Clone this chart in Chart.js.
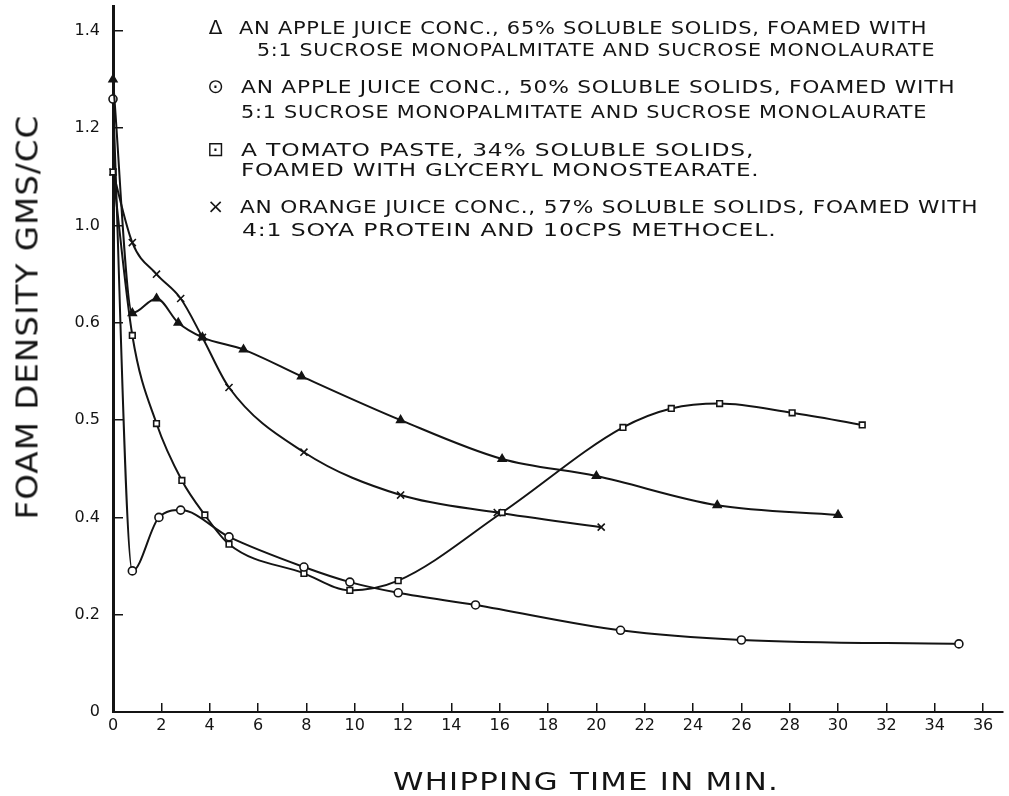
<!DOCTYPE html>
<html>
<head>
<meta charset="utf-8">
<script src="https://cdn.jsdelivr.net/npm/chart.js@4/dist/chart.umd.min.js"></script>
<style>
  html, body { margin: 0; padding: 0; background: #fff; }
  #wrap { position: relative; width: 1009px; height: 796px; overflow: hidden; }
  #foamChart { position: absolute; left: 0; top: 0; }
  .txt {
    position: absolute;
    font-family: 'DejaVu Sans', sans-serif;
    color: #141414;
    white-space: nowrap;
    line-height: 1;
    letter-spacing: 0.6px;
  }
  .leg { font-size: 17px; transform-origin: left center; }
  .mark { font-size: 20px; transform: translate(-50%, -50%); }
  #yTitle { font-size: 31px; letter-spacing: 1px; }
  #xTitle { font-size: 25px; letter-spacing: 1px; }
</style>
</head>
<body>
<div id="wrap">
  <canvas id="foamChart" width="1009" height="796"></canvas>

  <!-- legend block, typed as on the original figure -->
  <span class="txt mark" style="left:216px; top:27px;">&#916;</span>
  <span class="txt leg" data-w="688" style="left:239px; top:28px;">AN APPLE JUICE CONC., 65% SOLUBLE SOLIDS, FOAMED WITH</span>
  <span class="txt leg" data-w="678" style="left:257px; top:50px;">5:1 SUCROSE MONOPALMITATE AND SUCROSE MONOLAURATE</span>

  <span class="txt mark" style="left:216px; top:86px;">&#8857;</span>
  <span class="txt leg" data-w="714" style="left:241px; top:87px;">AN APPLE JUICE CONC., 50% SOLUBLE SOLIDS, FOAMED WITH</span>
  <span class="txt leg" data-w="686" style="left:241px; top:112px;">5:1 SUCROSE MONOPALMITATE AND SUCROSE MONOLAURATE</span>

  <span class="txt mark" style="left:216px; top:149px;">&#8865;</span>
  <span class="txt leg" data-w="513" style="left:241px; top:150px;">A TOMATO PASTE, 34% SOLUBLE SOLIDS,</span>
  <span class="txt leg" data-w="518" style="left:241px; top:170px;">FOAMED WITH GLYCERYL MONOSTEARATE.</span>

  <span class="txt mark" style="left:216px; top:206px;">&#215;</span>
  <span class="txt leg" data-w="738" style="left:240px; top:207px;">AN ORANGE JUICE CONC., 57% SOLUBLE SOLIDS, FOAMED WITH</span>
  <span class="txt leg" data-w="535" style="left:242px; top:230px;">4:1 SOYA PROTEIN AND 10CPS METHOCEL.</span>

  <span class="txt" id="yTitle" data-w="405" style="left:27px; top:317px;">FOAM DENSITY GMS/CC</span>
  <span class="txt" id="xTitle" data-w="386" style="left:586px; top:781px;">WHIPPING TIME IN MIN.</span>
</div>

<script>
// whipping time (min) and foam density, one pair of arrays per curve
// apple juice conc. 65% (triangles)
const timeApple65 = [0, 0.8, 1.8, 2.7, 3.7, 5.4, 7.8, 11.9, 16.1, 20, 25, 30];
const densApple65 = [1.30, 0.82, 0.85, 0.80, 0.77, 0.745, 0.69, 0.60, 0.52, 0.485, 0.425, 0.405];

// apple juice conc. 50% (circles)
const timeApple50 = [0, 0.8, 1.9, 2.8, 4.8, 7.9, 9.8, 11.8, 15, 21, 26, 35];
const densApple50 = [1.26, 0.29, 0.40, 0.415, 0.36, 0.298, 0.267, 0.245, 0.22, 0.168, 0.148, 0.14];

// tomato paste 34% (squares)
const timeTomato = [0, 0.8, 1.8, 2.85, 3.8, 4.8, 7.9, 9.8, 11.8, 16.1, 21.1, 23.1, 25.1, 28.1, 31];
const densTomato = [1.11, 0.774, 0.593, 0.476, 0.405, 0.345, 0.285, 0.25, 0.27, 0.41, 0.585, 0.624, 0.634, 0.615, 0.59];

// orange juice conc. 57% (crosses)
const timeOrange = [0, 0.8, 1.8, 2.8, 3.7, 4.8, 7.9, 11.9, 15.9, 20.2];
const densOrange = [1.11, 0.965, 0.90, 0.85, 0.77, 0.667, 0.534, 0.446, 0.41, 0.38];

// axis ticks; the y labels are as printed on the scan
const xTickValues = [0, 2, 4, 6, 8, 10, 12, 14, 16, 18, 20, 22, 24, 26, 28, 30, 32, 34, 36];
const yTickValues = [0, 0.2, 0.4, 0.6, 0.8, 1.0, 1.2, 1.4];
const yTickLabels = ['0', '0.2', '0.4', '0.5', '0.6', '1.0', '1.2', '1.4'];


document.addEventListener('DOMContentLoaded', function() {
  // stretch the typed lines to the width they take on the figure
  document.querySelectorAll('.leg').forEach(function(el) {
    const s = Number(el.dataset.w) / el.offsetWidth;
    el.style.transform = 'translateY(-50%) scaleX(' + s + ')';
  });
  const yTitle = document.getElementById('yTitle');
  yTitle.style.transform = 'translate(-50%, -50%) rotate(-90deg) scaleX(' + (Number(yTitle.dataset.w) / yTitle.offsetWidth) + ')';
  const xTitle = document.getElementById('xTitle');
  xTitle.style.transform = 'translate(-50%, -50%) scaleX(' + (Number(xTitle.dataset.w) / xTitle.offsetWidth) + ')';

  function pairs(xs, ys) {
    return xs.map((x, i) => ({ x: x, y: ys[i] }));
  }

  const ink = '#141414';

  function curve(label, xs, ys, style, radius, fill) {
    return {
      label: label,
      data: pairs(xs, ys),
      borderColor: ink,
      borderWidth: 2,
      cubicInterpolationMode: 'monotone',
      pointStyle: style,
      pointRadius: radius,
      pointBorderWidth: 1.6,
      pointBorderColor: ink,
      pointBackgroundColor: fill,
      clip: false
    };
  }

  const ctx = document.getElementById('foamChart').getContext('2d');

  new Chart(ctx, {
    type: 'line',
    data: {
      datasets: [
        curve('Apple juice conc. 65%', timeApple65, densApple65, 'triangle', 4.5, ink),
        curve('Apple juice conc. 50%', timeApple50, densApple50, 'circle', 4, '#fff'),
        curve('Tomato paste 34%', timeTomato, densTomato, 'rect', 4, '#fff'),
        curve('Orange juice conc. 57%', timeOrange, densOrange, 'crossRot', 5, ink)
      ]
    },
    options: {
      responsive: false,
      animation: false,
      layout: { padding: { top: 6, right: 4, left: 0, bottom: 0 } },
      plugins: {
        legend: { display: false },
        tooltip: { enabled: false }
      },
      scales: {
        x: {
          type: 'linear',
          min: 0,
          max: 36.8,
          afterBuildTicks: function(scale) {
            scale.ticks = xTickValues.map(v => ({ value: v }));
          },
          afterFit: function(scale) {
            scale.height = 84;
            scale.paddingLeft = 0;
            scale.paddingRight = 0;
          },
          border: { display: true, color: ink, width: 2 },
          grid: {
            drawOnChartArea: false,
            drawTicks: true,
            tickLength: -9,
            color: ink,
            lineWidth: 1.5
          },
          ticks: {
            padding: 13,
            maxRotation: 0,
            autoSkip: false,
            color: ink,
            font: { family: 'DejaVu Sans', size: 16 }
          }
        },
        y: {
          type: 'linear',
          min: 0,
          max: 1.45,
          afterBuildTicks: function(scale) {
            scale.ticks = yTickValues.map(v => ({ value: v }));
          },
          afterFit: function(scale) {
            scale.width = 113;
            scale.paddingTop = 0;
            scale.paddingBottom = 0;
          },
          border: { display: true, color: ink, width: 3 },
          grid: {
            drawOnChartArea: false,
            drawTicks: true,
            tickLength: -10,
            color: ink,
            lineWidth: 1.5
          },
          ticks: {
            padding: 23,
            autoSkip: false,
            color: ink,
            font: { family: 'DejaVu Sans', size: 16 },
            callback: function(value, index) {
              return yTickLabels[index];
            }
          }
        }
      }
    }
  });
});
</script>
</body>
</html>
